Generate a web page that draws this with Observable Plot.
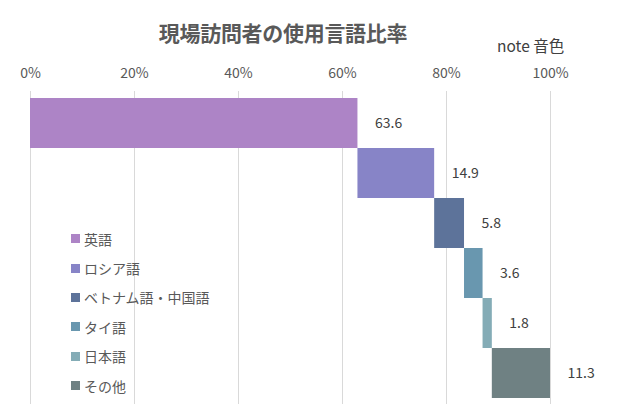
<!DOCTYPE html>
<html>
<head>
<meta charset="utf-8">
<script src="https://cdn.jsdelivr.net/npm/d3@7"></script>
<script src="https://cdn.jsdelivr.net/npm/@observablehq/plot@0.6"></script>
<style>
  html, body { margin: 0; padding: 0; background: #fff; }
  body { width: 619px; height: 419px; overflow: hidden; font-family: "Noto Sans CJK JP", "Noto Sans", sans-serif; color: #595959; }
  #wrap { position: relative; width: 619px; height: 419px; }
  #title { position: absolute; left: 0; width: 566px; top: 17px; text-align: center; font-size: 21px; font-weight: bold; color: #595959; letter-spacing: -0.3px; }
  #note { position: absolute; left: 497px; top: 34px; font-size: 15.5px; color: #404040; }
  #chart { position: absolute; left: 0; top: 55px; }
  #legend { position: absolute; left: 71px; top: 224px; font-size: 14px; color: #595959; }
  .li { height: 29.4px; display: flex; align-items: center; }
  .sw { width: 9px; height: 9px; margin-right: 4px; }
</style>
</head>
<body>
<div id="wrap">
  <div id="title">現場訪問者の使用言語比率</div>
  <div id="note">note 音色</div>
  <div id="chart"></div>
  <div id="legend"></div>
</div>
<script>
const categories = ["英語", "ロシア語", "ベトナム語・中国語", "タイ語", "日本語", "その他"];
const values = [63.6, 14.9, 5.8, 3.6, 1.8, 11.3];
const colors = ["#ad84c6", "#8784c7", "#5d739a", "#6997af", "#84acb6", "#6f8183"];
const tickValues = [0, 20, 40, 60, 80, 100];

const total = d3.sum(values);
let acc = 0;
const rows = categories.map((c, i) => {
  const start = acc;
  acc += values[i];
  return { cat: c, value: values[i], x1: start / total * 100, x2: acc / total * 100, color: colors[i] };
});

const font = '"Noto Sans CJK JP", "Noto Sans", sans-serif';
const chart = Plot.plot({
  width: 619,
  height: 364,
  marginLeft: 30,
  marginRight: 69,
  marginTop: 36,
  marginBottom: 15,
  style: { fontFamily: font, fontSize: "14px", color: "#595959", background: "transparent" },
  x: { domain: [0, 100] },
  y: { domain: categories, padding: 0, insetTop: 6, insetBottom: 5, axis: null },
  marks: [
    Plot.ruleX(tickValues, { stroke: "#d9d9d9", strokeWidth: 1 }),
    Plot.axisX({ anchor: "top", ticks: tickValues, tickSize: 0, tickPadding: 14, tickFormat: d => d + "%", fontSize: 14, fill: "#595959" }),
    Plot.barX(rows, { y: "cat", x1: "x1", x2: "x2", fill: "color" }),
    Plot.text(rows, { y: "cat", x: "x2", text: d => d.value.toFixed(1), textAnchor: "start", dx: 17, fontSize: 14, fill: "#404040" })
  ]
});
document.getElementById("chart").appendChild(chart);

const legend = document.getElementById("legend");
rows.forEach(r => {
  const li = document.createElement("div");
  li.className = "li";
  const sw = document.createElement("span");
  sw.className = "sw";
  sw.style.background = r.color;
  const t = document.createElement("span");
  t.textContent = r.cat;
  li.appendChild(sw);
  li.appendChild(t);
  legend.appendChild(li);
});
</script>
</body>
</html>
